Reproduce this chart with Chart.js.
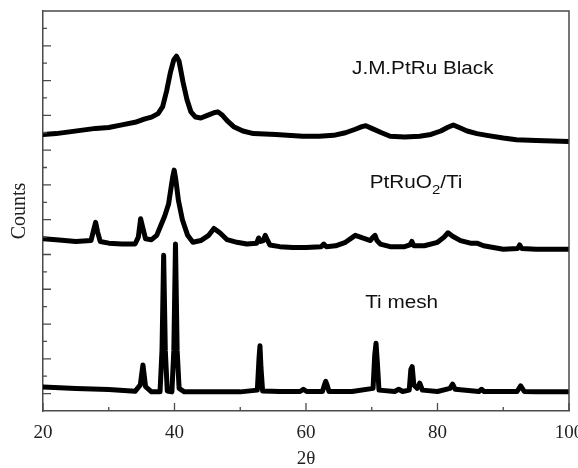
<!DOCTYPE html>
<html>
<head>
<meta charset="utf-8">
<script src="https://cdn.jsdelivr.net/npm/chart.js@4.4.1/dist/chart.umd.min.js"></script>
<style>
  html, body { margin: 0; padding: 0; background: #ffffff; }
  #wrap { width: 578px; height: 468px; }
</style>
</head>
<body>
<div id="wrap"><canvas id="c" width="578" height="468"></canvas></div>
<script>
// ---- Data (2θ in degrees, counts in offset units) ----
const blackTheta = [20, 22, 24, 26, 28, 30, 32, 34, 35.5, 36.5, 37.5, 38.2, 38.8, 39.4, 39.9, 40.3, 40.7, 41.3, 41.9, 42.5, 43.2, 44, 45, 46, 46.6, 47.3, 48, 49, 50.4, 52, 55.4, 59.5, 62, 64.2, 66, 67.5, 68.5, 69.1, 70, 71.5, 72.8, 75, 77.3, 79, 80.5, 81.5, 82.4, 83.3, 84.5, 86, 87.5, 90, 92, 95, 100];
const blackCounts = [14.9, 14.95, 15.05, 15.15, 15.25, 15.3, 15.45, 15.6, 15.8, 15.9, 16.1, 16.5, 17.4, 18.5, 19.2, 19.4, 19.1, 17.9, 16.9, 16.2, 15.9, 15.85, 16.0, 16.15, 16.2, 16.0, 15.7, 15.35, 15.1, 14.95, 14.9, 14.8, 14.8, 14.85, 15.0, 15.2, 15.35, 15.4, 15.25, 15.0, 14.8, 14.75, 14.8, 14.9, 15.1, 15.3, 15.45, 15.3, 15.1, 14.95, 14.85, 14.7, 14.6, 14.55, 14.5];

const ptruTheta = [20, 22, 25, 27.3, 27.7, 28, 28.3, 28.7, 30, 32, 34, 34.5, 34.85, 35.2, 35.6, 36.5, 37.3, 37.9, 38.5, 39.1, 39.5, 39.75, 39.95, 40.2, 40.6, 41.2, 42, 42.8, 44, 45.2, 46, 46.9, 48, 49.5, 51, 52.5, 52.8, 53.1, 53.5, 53.8, 54.1, 54.5, 56, 58, 60, 62.3, 62.7, 63.1, 64.5, 66, 67.5, 68.6, 69.8, 70.2, 70.5, 70.8, 71.3, 72.8, 75, 75.8, 76.1, 76.4, 78, 80, 81, 81.6, 82.3, 83.5, 85, 86, 87, 88.5, 90, 92.2, 92.5, 92.8, 95, 100];
const ptruCounts = [8.9, 8.85, 8.75, 8.8, 9.4, 9.85, 9.3, 8.75, 8.65, 8.6, 8.6, 9.0, 10.05, 9.5, 8.9, 8.85, 9.1, 9.65, 10.2, 10.9, 11.9, 12.5, 12.85, 12.3, 11.1, 10.0, 9.1, 8.7, 8.8, 9.1, 9.5, 9.25, 8.85, 8.7, 8.6, 8.65, 8.95, 8.75, 8.8, 9.1, 8.85, 8.55, 8.45, 8.4, 8.4, 8.45, 8.6, 8.45, 8.5, 8.7, 9.1, 8.95, 8.8, 9.0, 9.1, 8.8, 8.6, 8.45, 8.45, 8.55, 8.75, 8.5, 8.5, 8.7, 9.0, 9.25, 9.05, 8.8, 8.65, 8.65, 8.5, 8.4, 8.3, 8.35, 8.55, 8.35, 8.3, 8.3];

const tiTheta = [20, 25, 30, 34, 34.8, 35.2, 35.6, 36.5, 37.8, 38.1, 38.35, 38.6, 38.9, 39.6, 39.9, 40.15, 40.4, 40.7, 41.5, 45, 50, 52.6, 52.85, 53.0, 53.15, 53.4, 56, 59.1, 59.6, 60.1, 62.5, 62.8, 63.0, 63.2, 63.5, 67, 70.2, 70.45, 70.65, 70.85, 71.1, 73.5, 74.1, 74.7, 75.7, 75.95, 76.15, 76.4, 76.9, 77.3, 77.7, 80, 81.9, 82.3, 82.7, 86.3, 86.7, 87.1, 92.1, 92.65, 93.2, 95, 100];
const tiCounts = [0.38, 0.3, 0.23, 0.13, 0.5, 1.65, 0.4, 0.1, 0.1, 2.5, 7.95, 2.5, 0.15, 0.1, 2.5, 8.6, 2.5, 0.3, 0.1, 0.1, 0.1, 0.2, 2.0, 2.75, 1.5, 0.15, 0.12, 0.12, 0.25, 0.12, 0.12, 0.5, 0.7, 0.5, 0.12, 0.12, 0.3, 2.2, 2.9, 1.8, 0.2, 0.12, 0.25, 0.12, 0.2, 1.4, 1.55, 0.5, 0.3, 0.6, 0.2, 0.12, 0.3, 0.55, 0.25, 0.12, 0.25, 0.12, 0.12, 0.45, 0.12, 0.1, 0.1];

const seriesNames = ['J.M.PtRu Black', 'PtRuO2/Ti', 'Ti mesh'];
const xTickLabels = ['20', '40', '60', '80', '100'];
const xMajorTicks = [20, 40, 60, 80, 100];
const xMinorTicks = [30, 50, 70, 90];
const yMajorTicks = [0, 2, 4, 6, 8, 10, 12, 14, 16, 18, 20];
const yMinorTicks = [1, 3, 5, 7, 9, 11, 13, 15, 17, 19, 21];

function pairs(xs, ys) { return xs.map((x, i) => ({ x: x, y: ys[i] })); }

const frameColor = '#4a4a4a';

const insideTicks = {
  id: 'insideTicks',
  afterDraw(chart) {
    const ctx = chart.ctx, a = chart.chartArea, xs = chart.scales.x, ys = chart.scales.y;
    ctx.save();
    ctx.strokeStyle = frameColor;
    ctx.lineWidth = 1.3;
    ctx.beginPath();
    xMajorTicks.forEach(v => { const p = xs.getPixelForValue(v); ctx.moveTo(p, a.bottom); ctx.lineTo(p, a.bottom - 8); });
    xMinorTicks.forEach(v => { const p = xs.getPixelForValue(v); ctx.moveTo(p, a.bottom); ctx.lineTo(p, a.bottom - 4); });
    yMajorTicks.forEach(v => { const p = ys.getPixelForValue(v); ctx.moveTo(a.left, p); ctx.lineTo(a.left + 8, p); });
    yMinorTicks.forEach(v => { const p = ys.getPixelForValue(v); ctx.moveTo(a.left, p); ctx.lineTo(a.left + 4, p); });
    ctx.stroke();
    // top & right frame
    ctx.lineWidth = 1.5;
    ctx.beginPath();
    ctx.moveTo(a.left, a.top); ctx.lineTo(a.right, a.top); ctx.lineTo(a.right, a.bottom);
    ctx.stroke();
    ctx.restore();
  }
};

const labelsPlugin = {
  id: 'curveLabels',
  afterDraw(chart) {
    const ctx = chart.ctx, xs = chart.scales.x, ys = chart.scales.y;
    const sx = 1.15;
    ctx.save();
    ctx.fillStyle = '#111';
    ctx.textBaseline = 'alphabetic';
    ctx.textAlign = 'left';
    function draw(parts, xv, yv) {
      let px = xs.getPixelForValue(xv), py = ys.getPixelForValue(yv);
      ctx.save();
      ctx.translate(px, py);
      ctx.scale(sx, 1);
      let cx = 0;
      parts.forEach(pt => {
        ctx.font = pt.sub ? '13px "Liberation Sans", Arial, sans-serif' : '18px "Liberation Sans", Arial, sans-serif';
        ctx.fillText(pt.t, cx, pt.sub ? 6 : 0);
        cx += ctx.measureText(pt.t).width;
      });
      ctx.restore();
    }
    draw([{ t: seriesNames[0] }], 67.0, 18.4);
    draw([{ t: 'PtRuO' }, { t: '2', sub: true }, { t: '/Ti' }], 69.7, 11.85);
    draw([{ t: seriesNames[2] }], 69.0, 4.95);
    ctx.restore();
  }
};

const lineStyle = { borderColor: '#000', borderWidth: 5, pointRadius: 0, tension: 0, borderJoinStyle: 'round', borderCapStyle: 'round', fill: false };

new Chart(document.getElementById('c'), {
  type: 'line',
  data: {
    datasets: [
      Object.assign({ label: seriesNames[0], data: pairs(blackTheta, blackCounts) }, lineStyle),
      Object.assign({ label: seriesNames[1], data: pairs(ptruTheta, ptruCounts) }, lineStyle),
      Object.assign({ label: seriesNames[2], data: pairs(tiTheta, tiCounts) }, lineStyle)
    ]
  },
  options: {
    responsive: false,
    animation: false,
    devicePixelRatio: 1,
    layout: { padding: { top: 11, right: 9, left: 0, bottom: 0 } },
    plugins: { legend: { display: false }, tooltip: { enabled: false } },
    scales: {
      x: {
        type: 'linear',
        min: 20, max: 100,
        border: { display: true, color: frameColor, width: 1.5 },
        grid: { display: false, drawTicks: false },
        ticks: {
          stepSize: 20, autoSkip: false, maxRotation: 0, padding: 11,
          color: '#222',
          font: { family: '"Liberation Serif", "Times New Roman", serif', size: 19 },
          callback: (v) => { const i = xMajorTicks.indexOf(v); return i >= 0 ? xTickLabels[i] : ''; }
        },
        title: { display: true, text: '2θ', color: '#222', padding: { top: 0, bottom: -2 },
                 font: { family: '"Liberation Serif", "Times New Roman", serif', size: 19 } },
        afterFit: (s) => { s.height = 57; s.paddingLeft = 0; s.paddingRight = 0; }
      },
      y: {
        type: 'linear',
        min: -1, max: 22,
        border: { display: true, color: frameColor, width: 1.5 },
        grid: { display: false, drawTicks: false },
        ticks: { display: false },
        title: { display: true, text: 'Counts', color: '#222', padding: { top: 8, bottom: 0 },
                 font: { family: '"Liberation Serif", "Times New Roman", serif', size: 20 } },
        afterFit: (s) => { s.width = 43; s.paddingTop = 0; s.paddingBottom = 0; }
      }
    }
  },
  plugins: [insideTicks, labelsPlugin]
});
</script>
</body>
</html>
